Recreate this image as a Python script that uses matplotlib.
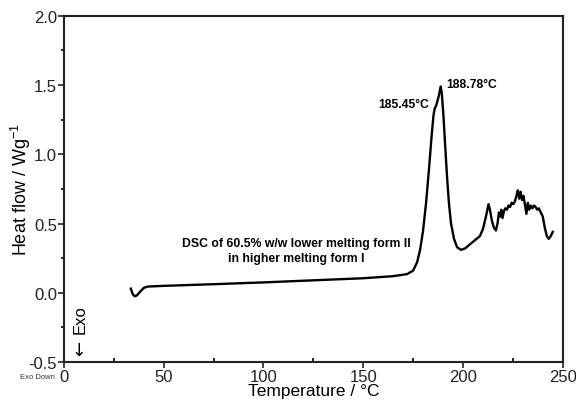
import matplotlib
matplotlib.use("Agg")
import matplotlib.pyplot as plt
from matplotlib.ticker import MultipleLocator

plt.rcParams['font.family'] = ['Liberation Sans', 'DejaVu Sans']
plt.rcParams['mathtext.fontset'] = 'custom'
plt.rcParams['mathtext.rm'] = 'Liberation Sans'
plt.rcParams['mathtext.default'] = 'regular'

# DSC trace (temperature in C, heat flow in W/g)
temp = [33.5, 34.5, 35.5, 36.5, 38, 40, 42, 50, 75, 100, 125, 150, 165, 172,
        175, 177, 178.5, 180, 181.5, 183, 184.2, 185.2, 185.8, 186.5, 187.3,
        188, 188.8, 189.4, 190.2, 191, 192, 193, 194, 195.5, 197, 199, 201,
        203.5, 206, 208.5, 210, 211.5, 212.8, 213.5, 214.5, 215.5, 216.5,
        217.3, 218, 218.6, 219.2, 219.8, 220.5, 221.2, 222, 222.8, 223.6,
        224.4, 225.2, 226, 226.8, 227.5, 228.2, 228.9, 229.6, 230.3, 231,
        231.8, 232.5, 233.2, 234, 234.8, 235.6, 236.4, 237.2, 238, 239, 240,
        241, 242, 243, 244, 245]
heat_flow = [0.03, -0.01, -0.025, -0.02, 0.005, 0.035, 0.045, 0.05, 0.062,
             0.075, 0.09, 0.105, 0.12, 0.135, 0.16, 0.22, 0.31, 0.45, 0.65,
             0.9, 1.12, 1.28, 1.33, 1.35, 1.39, 1.43, 1.49, 1.44, 1.28, 1.08,
             0.84, 0.64, 0.5, 0.39, 0.33, 0.31, 0.32, 0.35, 0.38, 0.41, 0.46,
             0.55, 0.64, 0.6, 0.52, 0.47, 0.45, 0.5, 0.58, 0.55, 0.6, 0.54,
             0.59, 0.61, 0.6, 0.63, 0.62, 0.65, 0.64, 0.66, 0.7, 0.74, 0.68,
             0.73, 0.67, 0.7, 0.64, 0.57, 0.65, 0.6, 0.63, 0.61, 0.63, 0.62,
             0.6, 0.61, 0.58, 0.55, 0.47, 0.41, 0.39, 0.41, 0.44]

peak_labels = ['185.45°C', '188.78°C']
peak_pos = [(183.0, 1.36), (191.5, 1.51)]
note = 'DSC of 60.5% w/w lower melting form II\nin higher melting form I'

fig = plt.figure(figsize=(5.76, 4.02), dpi=100)
ax = fig.add_axes([0.111, 0.097, 0.866, 0.861])
ax.plot(temp, heat_flow, color='black', lw=1.7)

ax.set_xlim(0, 250)
ax.set_ylim(-0.5, 2.0)
ax.xaxis.set_major_locator(MultipleLocator(50))
ax.xaxis.set_minor_locator(MultipleLocator(25))
ax.yaxis.set_major_locator(MultipleLocator(0.5))
ax.yaxis.set_minor_locator(MultipleLocator(0.25))
ax.yaxis.set_major_formatter(matplotlib.ticker.FormatStrFormatter('%.1f'))
ax.tick_params(which='major', direction='out', length=4, width=1.2,
               labelsize=12, pad=1, colors='#222222')
ax.tick_params(axis='x', which='minor', direction='in', length=3, width=1.2)
ax.tick_params(axis='y', which='minor', direction='out', length=2, width=1.2)
for s in ax.spines.values():
    s.set_linewidth(1.5)
    s.set_color('#222222')

ax.set_xlabel('Temperature / °C', fontsize=12.5, labelpad=-1)
ax.set_ylabel(r'Heat flow / Wg$^{-1}$', fontsize=13)
ax.yaxis.set_label_coords(-0.062, 0.5)

ax.text(peak_pos[0][0], peak_pos[0][1], peak_labels[0], ha='right', va='center',
        fontsize=8.7, fontweight='bold')
ax.text(peak_pos[1][0], peak_pos[1][1], peak_labels[1], ha='left', va='center',
        fontsize=8.7, fontweight='bold')
ax.text(116.5, 0.305, note, ha='center', va='center', fontsize=8.8,
        fontweight='bold', linespacing=1.4)

ax.text(8, -0.45, '←', rotation=90, ha='center', va='bottom', fontsize=13,
        family='DejaVu Sans')
ax.text(8, -0.29, 'Exo', rotation=90, ha='center', va='bottom', fontsize=12)
fig.text(0.065, 0.06, 'Exo Down', ha='center', va='center', fontsize=5.5,
         color='#333333')

fig.savefig('out.png', dpi=100)
